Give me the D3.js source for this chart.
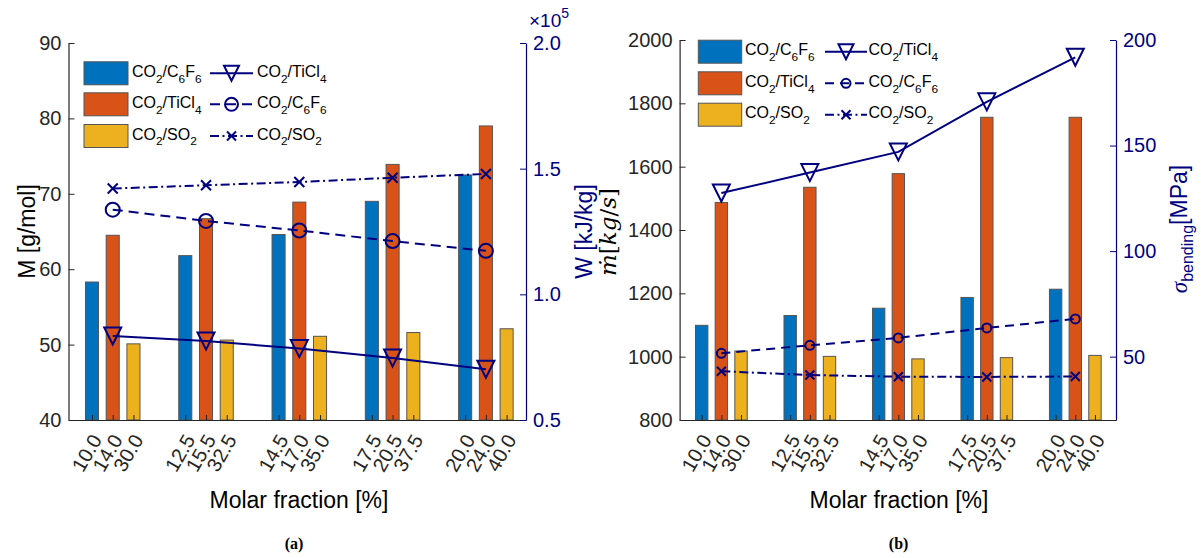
<!DOCTYPE html>
<html><head><meta charset="utf-8">
<script src="https://cdn.jsdelivr.net/npm/d3@7"></script>
<style>html,body{margin:0;padding:0;background:#fff;}svg{display:block;font-family:"Liberation Sans",Arial,Helvetica,sans-serif;}</style>
</head><body>
<svg id="chart" width="1202" height="558"></svg>
<script>
// ---------- data ----------
const groups = [1, 2, 3, 4, 5];
const tickLabels = [
  ["10.0", "14.0", "30.0"],
  ["12.5", "15.5", "32.5"],
  ["14.5", "17.0", "35.0"],
  ["17.5", "20.5", "37.5"],
  ["20.0", "24.0", "40.0"]
];
const seriesNames = ["CO_2/C_6F_6", "CO_2/TiCl_4", "CO_2/SO_2"];
const lineNames = ["CO_2/TiCl_4", "CO_2/C_6F_6", "CO_2/SO_2"];
// panel (a)
const molarMassC6F6 = [58.3, 61.8, 64.6, 69.0, 72.5];
const molarMassTiCl4 = [64.5, 66.7, 68.9, 73.9, 79.0];
const molarMassSO2 = [50.1, 50.6, 51.1, 51.6, 52.1];
const workTiCl4 = [0.834, 0.814, 0.784, 0.747, 0.702];   // x1e5 kJ/kg
const workC6F6 = [1.337, 1.292, 1.254, 1.212, 1.173];
const workSO2 = [1.421, 1.434, 1.447, 1.464, 1.479];
const massTicksA = [40, 50, 60, 70, 80, 90];
const workTicksA = [0.5, 1.0, 1.5, 2.0];
// panel (b)
const flowC6F6 = [1099, 1130, 1153, 1187, 1213];
const flowTiCl4 = [1487, 1535, 1578, 1756, 1756];
const flowSO2 = [1018, 1001, 993, 997, 1004];
const stressTiCl4 = [127.5, 137.2, 147.0, 170.7, 191.8];
const stressC6F6 = [51.6, 55.4, 58.9, 63.6, 67.9];
const stressSO2 = [43.1, 41.3, 40.5, 40.4, 40.6];
const flowTicksB = [800, 1000, 1200, 1400, 1600, 1800, 2000];
const stressTicksB = [50, 100, 150, 200];

// ---------- styles ----------
const barColors = ["#0072BD", "#D95319", "#EDB120"];
const navy = "#00007F";
const axisGray = "#262626";
const offsets = [-2 / 9, 0, 2 / 9];
const barW = 0.14;

const svg = d3.select("#chart");
svg.append("rect").attr("width", 1202).attr("height", 558).attr("fill", "#fff");

function richText(sel, str, size) {
  const parts = [];
  let i = 0;
  while (i < str.length) {
    if (str[i] === "_") { parts.push({t: str[i + 1], sub: true}); i += 2; }
    else {
      let j = i; while (j < str.length && str[j] !== "_") j++;
      parts.push({t: str.slice(i, j), sub: false}); i = j;
    }
  }
  let shifted = false;
  parts.forEach(p => {
    const ts = sel.append("tspan").text(p.t);
    if (p.sub && !shifted) { ts.attr("dy", size * 0.36).attr("font-size", size * 0.74); shifted = true; }
    else if (p.sub) { ts.attr("font-size", size * 0.74); }
    else if (!p.sub && shifted) { ts.attr("dy", -size * 0.36).attr("font-size", size); shifted = false; }
    else ts.attr("font-size", size);
  });
}

function triPath(w, h) {
  return `M${-w/2},${-h/2}L${w/2},${-h/2}L0,${h/2}Z`;
}
function drawMarker(g, type, x, y, size) {
  if (type === "tri") {
    g.append("path").attr("d", triPath(size, size)).attr("transform", `translate(${x},${y})`)
      .attr("fill", "none").attr("stroke", navy).attr("stroke-width", 2);
  } else if (type === "circle") {
    g.append("circle").attr("cx", x).attr("cy", y).attr("r", size / 2)
      .attr("fill", "none").attr("stroke", navy).attr("stroke-width", 2);
  } else {
    const s = size / 2;
    g.append("path").attr("d", `M${x-s},${y-s}L${x+s},${y+s}M${x-s},${y+s}L${x+s},${y-s}`)
      .attr("stroke", navy).attr("stroke-width", 2).attr("fill", "none");
  }
}

function panel(cfg) {
  const g = svg.append("g");
  const x = d3.scaleLinear().domain(cfg.xDomain).range([cfg.left, cfg.right]);
  const yL = d3.scaleLinear().domain(cfg.yLDomain).range([cfg.bottom, cfg.top]);
  const yR = d3.scaleLinear().domain(cfg.yRDomain).range([cfg.bottom, cfg.top]);

  // bars
  cfg.bars.forEach((vals, s) => {
    g.append("g").selectAll("rect").data(groups).join("rect")
      .attr("x", d => x(d + offsets[s] - barW / 2))
      .attr("width", x(barW) - x(0))
      .attr("y", (d, i) => yL(vals[i]))
      .attr("height", (d, i) => yL(cfg.yLDomain[0]) - yL(vals[i]))
      .attr("fill", barColors[s]).attr("stroke", "#555").attr("stroke-width", 1);
  });

  // x axis
  const tickPos = [], tickTxt = [];
  groups.forEach((gr, i) => offsets.forEach((o, s) => { tickPos.push(gr + o); tickTxt.push(tickLabels[i][s]); }));
  const xAxis = d3.axisBottom(x).tickValues(tickPos).tickSizeInner(-5).tickSizeOuter(0).tickFormat((d, i) => tickTxt[i]);
  const gx = g.append("g").attr("transform", `translate(0,${cfg.bottom})`).call(xAxis);
  gx.select(".domain").attr("stroke", axisGray).attr("stroke-width", 1.2);
  gx.selectAll(".tick line").attr("stroke", axisGray);
  gx.selectAll(".tick text").attr("font-size", 20).attr("fill", axisGray)
    .attr("font-family", "Liberation Sans, Arial, sans-serif")
    .attr("text-anchor", "end").attr("y", 0).attr("dy", "0.35em")
    .attr("transform", "translate(4,16) rotate(-60)");

  // left axis
  const gl = g.append("g").attr("transform", `translate(${cfg.left},0)`)
    .call(d3.axisLeft(yL).tickValues(cfg.yLTicks).tickSizeInner(-6).tickSizeOuter(0).tickPadding(7).tickFormat(d3.format("d")));
  gl.select(".domain").attr("stroke", axisGray).attr("stroke-width", 1.2);
  gl.selectAll(".tick line").attr("stroke", axisGray);
  gl.selectAll(".tick text").attr("font-size", 20).attr("fill", axisGray).attr("font-family", "Liberation Sans, Arial, sans-serif");

  // right axis
  const gr = g.append("g").attr("transform", `translate(${cfg.right},0)`)
    .call(d3.axisRight(yR).tickValues(cfg.yRTicks).tickSizeInner(-6).tickSizeOuter(0).tickPadding(7).tickFormat(cfg.yRFormat));
  gr.select(".domain").attr("stroke", navy).attr("stroke-width", 1.2);
  gr.selectAll(".tick line").attr("stroke", navy);
  gr.selectAll(".tick text").attr("font-size", 20).attr("fill", navy).attr("font-family", "Liberation Sans, Arial, sans-serif");

  // lines
  const lineGen = d3.line().x((d, i) => x(groups[i])).y(d => yR(d));
  cfg.lines.forEach(ln => {
    g.append("path").datum(ln.vals).attr("d", lineGen).attr("fill", "none")
      .attr("stroke", navy).attr("stroke-width", 2).attr("stroke-dasharray", ln.dash);
    ln.vals.forEach((v, i) => drawMarker(g, ln.marker, x(groups[i]), yR(v), ln.size));
  });

  // legend
  const L = cfg.legend;
  cfg.bars.forEach((_, s) => {
    const cy = L.rows[s];
    g.append("rect").attr("x", L.patchX).attr("y", cy - 11.5).attr("width", L.patchW).attr("height", 23)
      .attr("fill", barColors[s]).attr("stroke", "#555").attr("stroke-width", 1);
    const t = g.append("text").attr("x", L.textX).attr("y", cy + 3.5).attr("fill", "#000");
    richText(t, seriesNames[s], 16);
  });
  cfg.lines.forEach((ln, s) => {
    const cy = L.rows[s];
    g.append("line").attr("x1", L.lineX1).attr("x2", L.lineX2).attr("y1", cy).attr("y2", cy)
      .attr("stroke", navy).attr("stroke-width", 2).attr("stroke-dasharray", ln.dash);
    drawMarker(g, ln.marker, (L.lineX1 + L.lineX2) / 2, cy, ln.legSize);
    const t = g.append("text").attr("x", L.text2X).attr("y", cy + 3.5).attr("fill", "#000");
    richText(t, lineNames[s], 16);
  });

  // x title
  g.append("text").attr("x", cfg.xTitleX).attr("y", 508).attr("text-anchor", "middle")
    .attr("font-size", 23).attr("fill", "#000").text("Molar fraction [%]");
  // caption
  g.append("text").attr("x", cfg.capX).attr("y", 549).attr("text-anchor", "middle")
    .attr("font-family", "Liberation Serif, Times New Roman, serif").attr("font-weight", "bold")
    .attr("font-size", 16).attr("fill", "#000").text(cfg.caption);
  return {g, x, yL, yR};
}

// panel (a)
const A = panel({
  left: 68.5, right: 526, top: 43, bottom: 420,
  xDomain: [0.526, 5.43], yLDomain: [40, 90], yRDomain: [0.5, 2.0],
  yLTicks: massTicksA, yRTicks: workTicksA, yRFormat: d3.format(".1f"),
  bars: [molarMassC6F6, molarMassTiCl4, molarMassSO2],
  lines: [
    {vals: workTiCl4, marker: "tri", dash: null, size: 17, legSize: 15},
    {vals: workC6F6, marker: "circle", dash: "10,6", size: 14, legSize: 13},
    {vals: workSO2, marker: "x", dash: "9,3.5,2,3.5", size: 10, legSize: 9}
  ],
  legend: {rows: [73.3, 104.3, 136], patchX: 84, patchW: 44, textX: 132, lineX1: 210, lineX2: 253, text2X: 257},
  xTitleX: 299, capX: 294, caption: "(a)"
});
A.g.append("text").attr("transform", "translate(35,231.5) rotate(-90)").attr("text-anchor", "middle")
  .attr("font-size", 23).attr("fill", "#000").text("M [g/mol]");
A.g.append("text").attr("transform", "translate(592,231.5) rotate(-90)").attr("text-anchor", "middle")
  .attr("font-size", 23).attr("fill", navy).text("W [kJ/kg]");
const ex = A.g.append("text").attr("x", 529).attr("y", 27).attr("fill", navy).attr("font-size", 19);
ex.append("tspan").text("\u00D710");
ex.append("tspan").attr("font-size", 14).attr("dy", -9).text("5");

// panel (b)
const B = panel({
  left: 679.6, right: 1116, top: 40, bottom: 420,
  xDomain: [0.528, 5.46], yLDomain: [800, 2000], yRDomain: [20, 200],
  yLTicks: flowTicksB, yRTicks: stressTicksB, yRFormat: d3.format("d"),
  bars: [flowC6F6, flowTiCl4, flowSO2],
  lines: [
    {vals: stressTiCl4, marker: "tri", dash: null, size: 17, legSize: 15},
    {vals: stressC6F6, marker: "circle", dash: "9,6", size: 9, legSize: 9},
    {vals: stressSO2, marker: "x", dash: "9,3.5,2,3.5", size: 9, legSize: 9}
  ],
  legend: {rows: [51.7, 83.3, 114.7], patchX: 698.3, patchW: 43.4, textX: 745, lineX1: 825, lineX2: 867, text2X: 868.5},
  xTitleX: 899, capX: 898.6, caption: "(b)"
});
const ml = B.g.append("text").attr("transform", "translate(616,232) rotate(-90)").attr("text-anchor", "middle")
  .attr("font-size", 23).attr("fill", "#000").attr("font-family", "DejaVu Serif, Liberation Serif, serif");
ml.append("tspan").attr("font-style", "italic").text("\u1E41");
ml.append("tspan").text("[");
ml.append("tspan").attr("font-style", "italic").text("kg");
ml.append("tspan").text("/");
ml.append("tspan").attr("font-style", "italic").text("s");
ml.append("tspan").text("]");
const sl = B.g.append("text").attr("transform", "translate(1187,229) rotate(-90)").attr("text-anchor", "middle")
  .attr("font-size", 23).attr("fill", navy);
sl.append("tspan").attr("font-style", "italic").attr("font-family", "Liberation Serif, serif").text("\u03C3");
sl.append("tspan").attr("font-size", 16).attr("dy", 6).text("bending");
sl.append("tspan").attr("dy", -6).text("[MPa]");
</script>
</body></html>
